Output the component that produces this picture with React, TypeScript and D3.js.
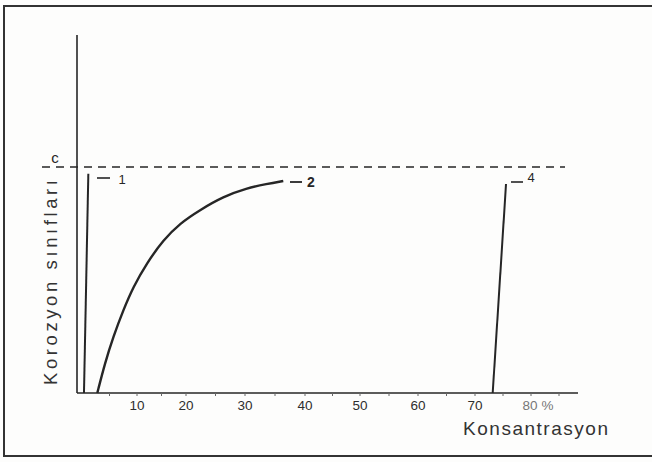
import React from "react"
import * as d3 from "d3"

const width = 652
const height = 462

// x values in % concentration, y in fraction of class "c"
const line1X = [0.36, 1.15]
const line1Y = [0, 0.97]

const curve2X = [2.78, 4.18, 5.69, 7.51, 9.33, 11.98, 15.37, 18.78, 22.37, 26.32, 30.28, 33.62, 36.38]
const curve2Y = [0, 0.133, 0.249, 0.367, 0.47, 0.574, 0.677, 0.751, 0.81, 0.869, 0.906, 0.925, 0.938]

const line4X = [73.16, 75.54]
const line4Y = [0, 0.925]

const tickLabels = [10, 20, 30, 40, 50, 60, 70, 80]
const minorTicks = [5, 10, 15, 20, 25, 30, 35, 40, 45, 50, 55, 60, 65, 70, 75, 80, 85]
const cLevel = 1

const ink = "#262626"

const App = () => {
  // the printed axis is not evenly spaced, so map each decade to where it was drawn
  const x = d3
    .scaleLinear()
    .domain([0, 10, 20, 30, 40, 50, 60, 70, 80, 90])
    .range([82, 137, 186, 245, 305, 360, 418, 475, 531, 587])
  const y = d3.scaleLinear().domain([0, 1]).range([393, 167])

  const straight = d3
    .line<[number, number]>()
    .x(d => x(d[0]))
    .y(d => y(d[1]))
  const smooth = d3
    .line<[number, number]>()
    .x(d => x(d[0]))
    .y(d => y(d[1]))
    .curve(d3.curveBasis)

  const pts1 = line1X.map((v, i) => [v, line1Y[i]] as [number, number])
  const pts2 = curve2X.map((v, i) => [v, curve2Y[i]] as [number, number])
  const pts4 = line4X.map((v, i) => [v, line4Y[i]] as [number, number])

  const font = "'Liberation Sans', Arial, sans-serif"

  return (
    <svg
      width={width}
      height={height}
      style={{ position: "absolute", left: 0, top: 0, background: "#fdfdfc" }}
    >
      {/* frame */}
      <path d="M652,6 H4 V456 H652" fill="none" stroke="#333" strokeWidth={2} />

      {/* axes */}
      <line x1={77} y1={35} x2={77} y2={393} stroke={ink} strokeWidth={1.6} />
      <line x1={77} y1={393} x2={578} y2={393} stroke={ink} strokeWidth={1.6} />
      {minorTicks.map(t => (
        <line key={t} x1={x(t)} x2={x(t)} y1={393} y2={396} stroke="#666" strokeWidth={1} />
      ))}
      {tickLabels.map(t => (
        <text
          key={t}
          x={x(t) + (t === 80 ? 7 : 0)}
          y={410}
          textAnchor="middle"
          fontFamily={font}
          fontSize={13.5}
          fill={t === 80 ? "#777" : "#2e2e2e"}
        >
          {t === 80 ? "80 %" : t}
        </text>
      ))}

      {/* level c */}
      <line
        x1={42}
        x2={565}
        y1={y(cLevel)}
        y2={y(cLevel)}
        stroke={ink}
        strokeWidth={1.6}
        strokeDasharray="8,6"
      />
      <text x={55} y={163} textAnchor="middle" fontFamily={font} fontSize={15} fill={ink}>
        c
      </text>

      {/* curves */}
      <path d={straight(pts1) || ""} fill="none" stroke={ink} strokeWidth={2} />
      <path d={smooth(pts2) || ""} fill="none" stroke={ink} strokeWidth={2.4} />
      <path d={straight(pts4) || ""} fill="none" stroke={ink} strokeWidth={2} />

      {/* curve labels */}
      <line x1={97} x2={110} y1={178} y2={178} stroke={ink} strokeWidth={1.6} />
      <text x={122} y={184} textAnchor="middle" fontFamily={font} fontSize={13} fill={ink}>1</text>
      <line x1={290} x2={302} y1={182} y2={182} stroke={ink} strokeWidth={1.8} />
      <text x={311} y={187} textAnchor="middle" fontFamily={font} fontSize={14} fontWeight="bold" fill={ink}>2</text>
      <line x1={511} x2={523} y1={182} y2={182} stroke={ink} strokeWidth={1.6} />
      <text x={531} y={182} textAnchor="middle" fontFamily={font} fontSize={13} fill={ink}>4</text>

      {/* axis titles */}
      <text
        x={463}
        y={435}
        textLength={145}
        fontFamily={font}
        fontSize={19}
        fill="#333"
      >
        Konsantrasyon
      </text>
      <text
        transform="translate(57,385) rotate(-90)"
        textLength={205}
        fontFamily={font}
        fontSize={18.5}
        fill="#333"
      >
        Korozyon sınıfları
      </text>
    </svg>
  )
}

export default App
